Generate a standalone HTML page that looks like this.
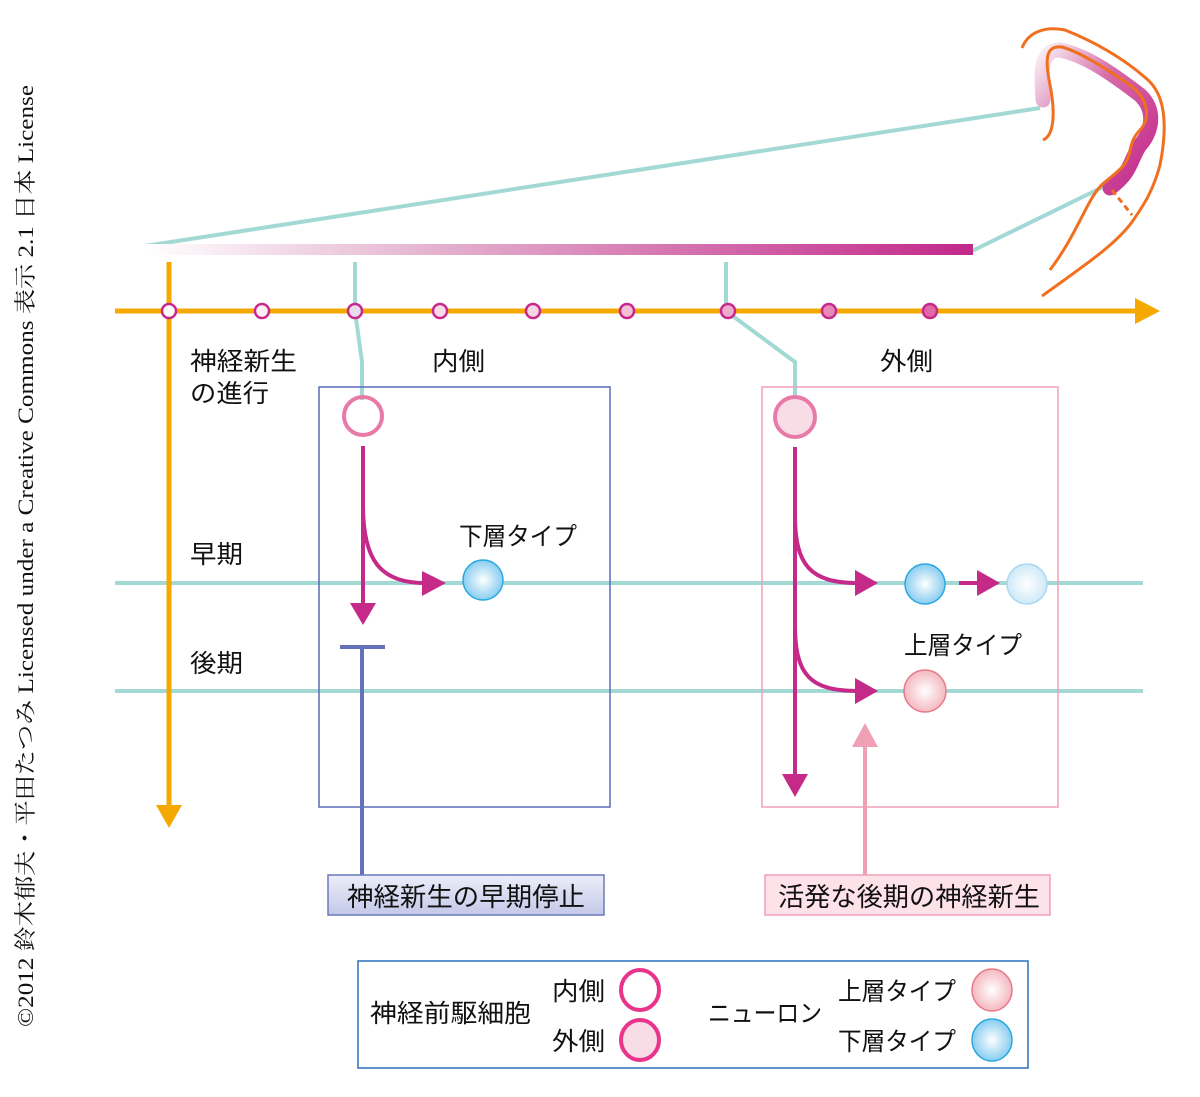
<!DOCTYPE html>
<html><head><meta charset="utf-8"><style>
html,body{margin:0;padding:0;background:#fff}
svg{display:block}
text{font-family:"Liberation Sans","Noto Sans CJK JP",sans-serif;fill:#111}
</style></head><body>
<svg width="1200" height="1097" viewBox="0 0 1200 1097" xmlns="http://www.w3.org/2000/svg">
<defs>
<linearGradient id="bar" x1="0" x2="1" y1="0" y2="0">
<stop offset="0" stop-color="#fff"/><stop offset="0.35" stop-color="#e4b2cf"/><stop offset="1" stop-color="#c2288a"/></linearGradient>
<linearGradient id="arc" x1="0" x2="1" y1="0" y2="1">
<stop offset="0" stop-color="#f8eef4"/><stop offset="0.4" stop-color="#d76aa8"/><stop offset="1" stop-color="#c2288a"/></linearGradient>
<radialGradient id="blue"><stop offset="0" stop-color="#fff"/><stop offset="1" stop-color="#88cdf0"/></radialGradient>
<radialGradient id="blue2"><stop offset="0" stop-color="#fff"/><stop offset="1" stop-color="#cfe9f7"/></radialGradient>
<radialGradient id="red"><stop offset="0" stop-color="#fff"/><stop offset="1" stop-color="#f4b8c0"/></radialGradient>
<linearGradient id="box1" x1="0" x2="0" y1="0" y2="1"><stop offset="0" stop-color="#eceef9"/><stop offset="1" stop-color="#c3c8e8"/></linearGradient>
</defs>

<text transform="translate(33,1027) rotate(-90)" font-size="22" textLength="942" lengthAdjust="spacingAndGlyphs" style="font-family:'Liberation Serif','Noto Serif CJK SC',serif">©2012 鈴木郁夫・平田たつみ Licensed under a Creative Commons 表示 2.1 日本 License</text>

<g stroke="#a3d9d4" stroke-width="4" fill="none">
<polyline points="145,246 1040,108"/>
<line x1="972" y1="251" x2="1105" y2="186"/>
<polyline points="355,262 355,311 362,362 362,400"/>
<polyline points="726,262 726,311 795,362 795,398"/>
<line x1="115" y1="583" x2="1143" y2="583"/>
<line x1="115" y1="691" x2="1143" y2="691"/>
</g>
<rect x="145" y="244" width="828" height="11" fill="url(#bar)"/>

<!-- brain arc -->
<path d="M1043,100 C1042,75 1038,50 1060,50 C1085,55 1110,72 1140,95 C1158,112 1150,135 1140,145 C1130,160 1132,172 1110,188" stroke="url(#arc)" stroke-width="15" fill="none" stroke-linecap="round"/>
<g stroke="#f07020" stroke-width="3" fill="none">
<path d="M1022,48 C1028,32 1045,26 1065,30 C1090,40 1120,55 1148,80 C1170,100 1165,140 1160,165 C1152,195 1140,210 1132,222 C1115,245 1085,265 1042,296"/>
<path d="M1043,140 C1055,135 1055,110 1050,85 C1045,60 1045,45 1062,47 C1080,52 1105,68 1130,85 C1150,100 1150,120 1140,130 C1128,142 1132,155 1124,165 C1118,172 1112,176 1105,182 C1088,195 1080,230 1050,270"/>
<path d="M1112,190 L1132,215" stroke-dasharray="6,4"/>
</g>

<g stroke="#f5a800" stroke-width="5" fill="#f5a800">
<line x1="115" y1="311" x2="1140" y2="311"/>
<line x1="169" y1="262" x2="169" y2="808"/>
</g>
<polygon points="1135,298 1160,311 1135,324" fill="#f5a800"/>
<polygon points="156,805 169,828 182,805" fill="#f5a800"/>
<g stroke="#c8288a" stroke-width="2.5">
<circle cx="169" cy="311" r="7" fill="#fff"/>
<circle cx="262" cy="311" r="7" fill="#fbeef4"/>
<circle cx="355" cy="311" r="7" fill="#e6dcee"/>
<circle cx="440" cy="311" r="7" fill="#f7dbe8"/>
<circle cx="533" cy="311" r="7" fill="#f5d4e4"/>
<circle cx="627" cy="311" r="7" fill="#f2bfd8"/>
<circle cx="728" cy="311" r="7" fill="#eeaccd"/>
<circle cx="829" cy="311" r="7" fill="#e88ab9"/>
<circle cx="930" cy="311" r="7" fill="#e06aa8"/>
</g>

<text x="190" y="370" font-size="25" textLength="107" lengthAdjust="spacingAndGlyphs">神経新生</text>
<text x="190" y="402" font-size="25" textLength="79" lengthAdjust="spacingAndGlyphs">の進行</text>
<text x="432" y="370" font-size="25" textLength="53" lengthAdjust="spacingAndGlyphs">内側</text>
<text x="880" y="370" font-size="25" textLength="53" lengthAdjust="spacingAndGlyphs">外側</text>
<text x="190" y="563" font-size="25" textLength="53" lengthAdjust="spacingAndGlyphs">早期</text>
<text x="190" y="672" font-size="25" textLength="53" lengthAdjust="spacingAndGlyphs">後期</text>

<rect x="319" y="387" width="291" height="420" fill="none" stroke="#5a6ab8" stroke-width="1.5"/>
<rect x="762" y="387" width="296" height="420" fill="none" stroke="#f0a0b8" stroke-width="1.5"/>

<circle cx="363" cy="416" r="19" fill="none" stroke="#e87aa8" stroke-width="4"/>
<g stroke="#c62a88" stroke-width="4" fill="none">
<line x1="363" y1="446" x2="363" y2="605"/>
<path d="M363,505 C363,560 380,583 425,583"/>
</g>
<polygon points="350,603 376,603 363,625" fill="#c62a88"/>
<polygon points="422,571 446,583 422,596" fill="#c62a88"/>
<circle cx="483" cy="580" r="20" fill="url(#blue)" stroke="#2aa8e0" stroke-width="1.5"/>
<text x="459" y="545" font-size="25" textLength="118" lengthAdjust="spacingAndGlyphs">下層タイプ</text>
<g stroke="#6572b8" stroke-width="4"><line x1="340" y1="647" x2="385" y2="647"/><line x1="362" y1="647" x2="362" y2="876"/></g>

<circle cx="795" cy="417" r="20" fill="#f8dce6" stroke="#e87aa8" stroke-width="4"/>
<g stroke="#c62a88" stroke-width="4" fill="none">
<line x1="795" y1="447" x2="795" y2="778"/>
<path d="M795,515 C795,565 810,583 858,583"/>
<path d="M795,625 C795,675 810,691 858,691"/>
<line x1="959" y1="583" x2="980" y2="583"/>
</g>
<polygon points="855,570 878,583 855,596" fill="#c62a88"/>
<polygon points="855,678 878,691 855,704" fill="#c62a88"/>
<polygon points="977,570 1000,583 977,596" fill="#c62a88"/>
<polygon points="782,774 808,774 795,797" fill="#c62a88"/>
<circle cx="925" cy="584" r="20" fill="url(#blue)" stroke="#2aa8e0" stroke-width="1.5"/>
<circle cx="1027" cy="584" r="20" fill="url(#blue2)" stroke="#a8d8f2" stroke-width="1.5"/>
<circle cx="925" cy="691" r="21" fill="url(#red)" stroke="#e87a8a" stroke-width="1.5"/>
<text x="904" y="654" font-size="25" textLength="118" lengthAdjust="spacingAndGlyphs">上層タイプ</text>
<line x1="865" y1="745" x2="865" y2="876" stroke="#f0a0b4" stroke-width="4"/>
<polygon points="852,747 878,747 865,723" fill="#f0a0b4"/>

<rect x="328" y="875" width="276" height="40" fill="url(#box1)" stroke="#6a78c0" stroke-width="1.5"/>
<text x="347" y="906" font-size="26" textLength="238" lengthAdjust="spacingAndGlyphs">神経新生の早期停止</text>
<rect x="765" y="875" width="285" height="40" fill="#fde2ea" stroke="#f0a0b8" stroke-width="1.5"/>
<text x="778" y="906" font-size="26" textLength="262" lengthAdjust="spacingAndGlyphs">活発な後期の神経新生</text>

<rect x="358" y="961" width="670" height="107" fill="none" stroke="#2a70b8" stroke-width="1.5"/>
<text x="370" y="1022" font-size="25" textLength="161" lengthAdjust="spacingAndGlyphs">神経前駆細胞</text>
<text x="552" y="1000" font-size="25" textLength="53" lengthAdjust="spacingAndGlyphs">内側</text>
<text x="552" y="1050" font-size="25" textLength="53" lengthAdjust="spacingAndGlyphs">外側</text>
<ellipse cx="640" cy="990" rx="19" ry="20" fill="#fff" stroke="#e8348a" stroke-width="4"/>
<ellipse cx="640" cy="1040" rx="19" ry="20" fill="#f8dce6" stroke="#e8348a" stroke-width="4"/>
<text x="708" y="1022" font-size="25" textLength="114" lengthAdjust="spacingAndGlyphs">ニューロン</text>
<text x="838" y="1000" font-size="25" textLength="118" lengthAdjust="spacingAndGlyphs">上層タイプ</text>
<text x="838" y="1050" font-size="25" textLength="118" lengthAdjust="spacingAndGlyphs">下層タイプ</text>
<ellipse cx="992" cy="990" rx="20" ry="21" fill="url(#red)" stroke="#e87a8a" stroke-width="1.5"/>
<ellipse cx="992" cy="1040" rx="20" ry="21" fill="url(#blue)" stroke="#2aa8e0" stroke-width="1.5"/>
</svg>
</body></html>
